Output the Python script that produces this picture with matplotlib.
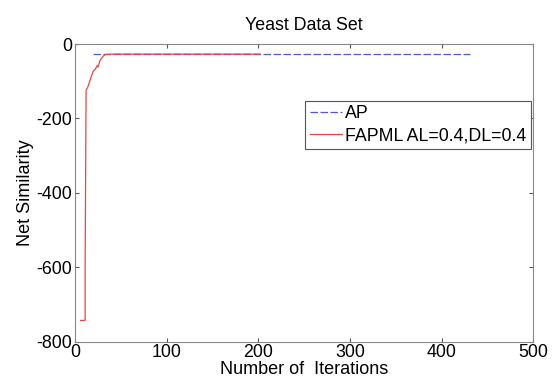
import numpy as np
import matplotlib.pyplot as plt

plt.rcParams['font.family'] = ['Liberation Sans', 'DejaVu Sans']
plt.rcParams['axes.unicode_minus'] = False

# AP: dashed blue, flat after convergence
ap_x = [20, 60, 100, 150, 200, 250, 300, 350, 400, 431]
ap_y = [-27, -27, -27, -27, -27, -27, -27, -27, -27, -27]

# FAPML AL=0.4, DL=0.4
fa_x = [6, 11, 11, 12, 14, 16, 18, 20, 22, 24, 25, 26, 27, 29, 31, 33, 40, 60, 100, 150, 202]
fa_y = [-743, -743, -600, -125, -115, -100, -85, -72, -68, -58, -62, -55, -45, -38, -32, -28, -27, -27, -27, -27, -27]

fig = plt.figure(figsize=(5.52, 3.83), dpi=100)
ax = fig.add_axes([0.136, 0.108, 0.83, 0.777])

ax.plot(ap_x, ap_y, color='#5555dd', linestyle=(0, (6, 2)), linewidth=0.9, label='AP')
ax.plot(fa_x, fa_y, color='#ee4444', linestyle='-', linewidth=0.9, label='FAPML AL=0.4,DL=0.4')

ax.set_xlim(0, 500)
ax.set_ylim(-800, 0)
ax.set_xticks([0, 100, 200, 300, 400, 500])
ax.set_yticks([-800, -600, -400, -200, 0])
ax.tick_params(direction='in', length=3, labelsize=12.8, pad=2, top=True, right=True, color='#555555')
ax.tick_params(axis='x', pad=1.5)
for s in ax.spines.values():
    s.set_color('#888888')

ax.set_title('Yeast Data Set', fontsize=12.8, pad=10)
ax.set_xlabel('Number of  Iterations', fontsize=13, labelpad=0)
ax.set_ylabel('Net Similarity', fontsize=13, labelpad=2)

leg = ax.legend(loc='upper right', bbox_to_anchor=(0.995, 0.81), fontsize=12.8,
                fancybox=False, framealpha=1, edgecolor='#555555',
                handlelength=1.8, handletextpad=0.2, borderpad=0.25, labelspacing=0.3,
                borderaxespad=0)
leg.get_frame().set_linewidth(0.8)

fig.savefig('out.png', dpi=100)
